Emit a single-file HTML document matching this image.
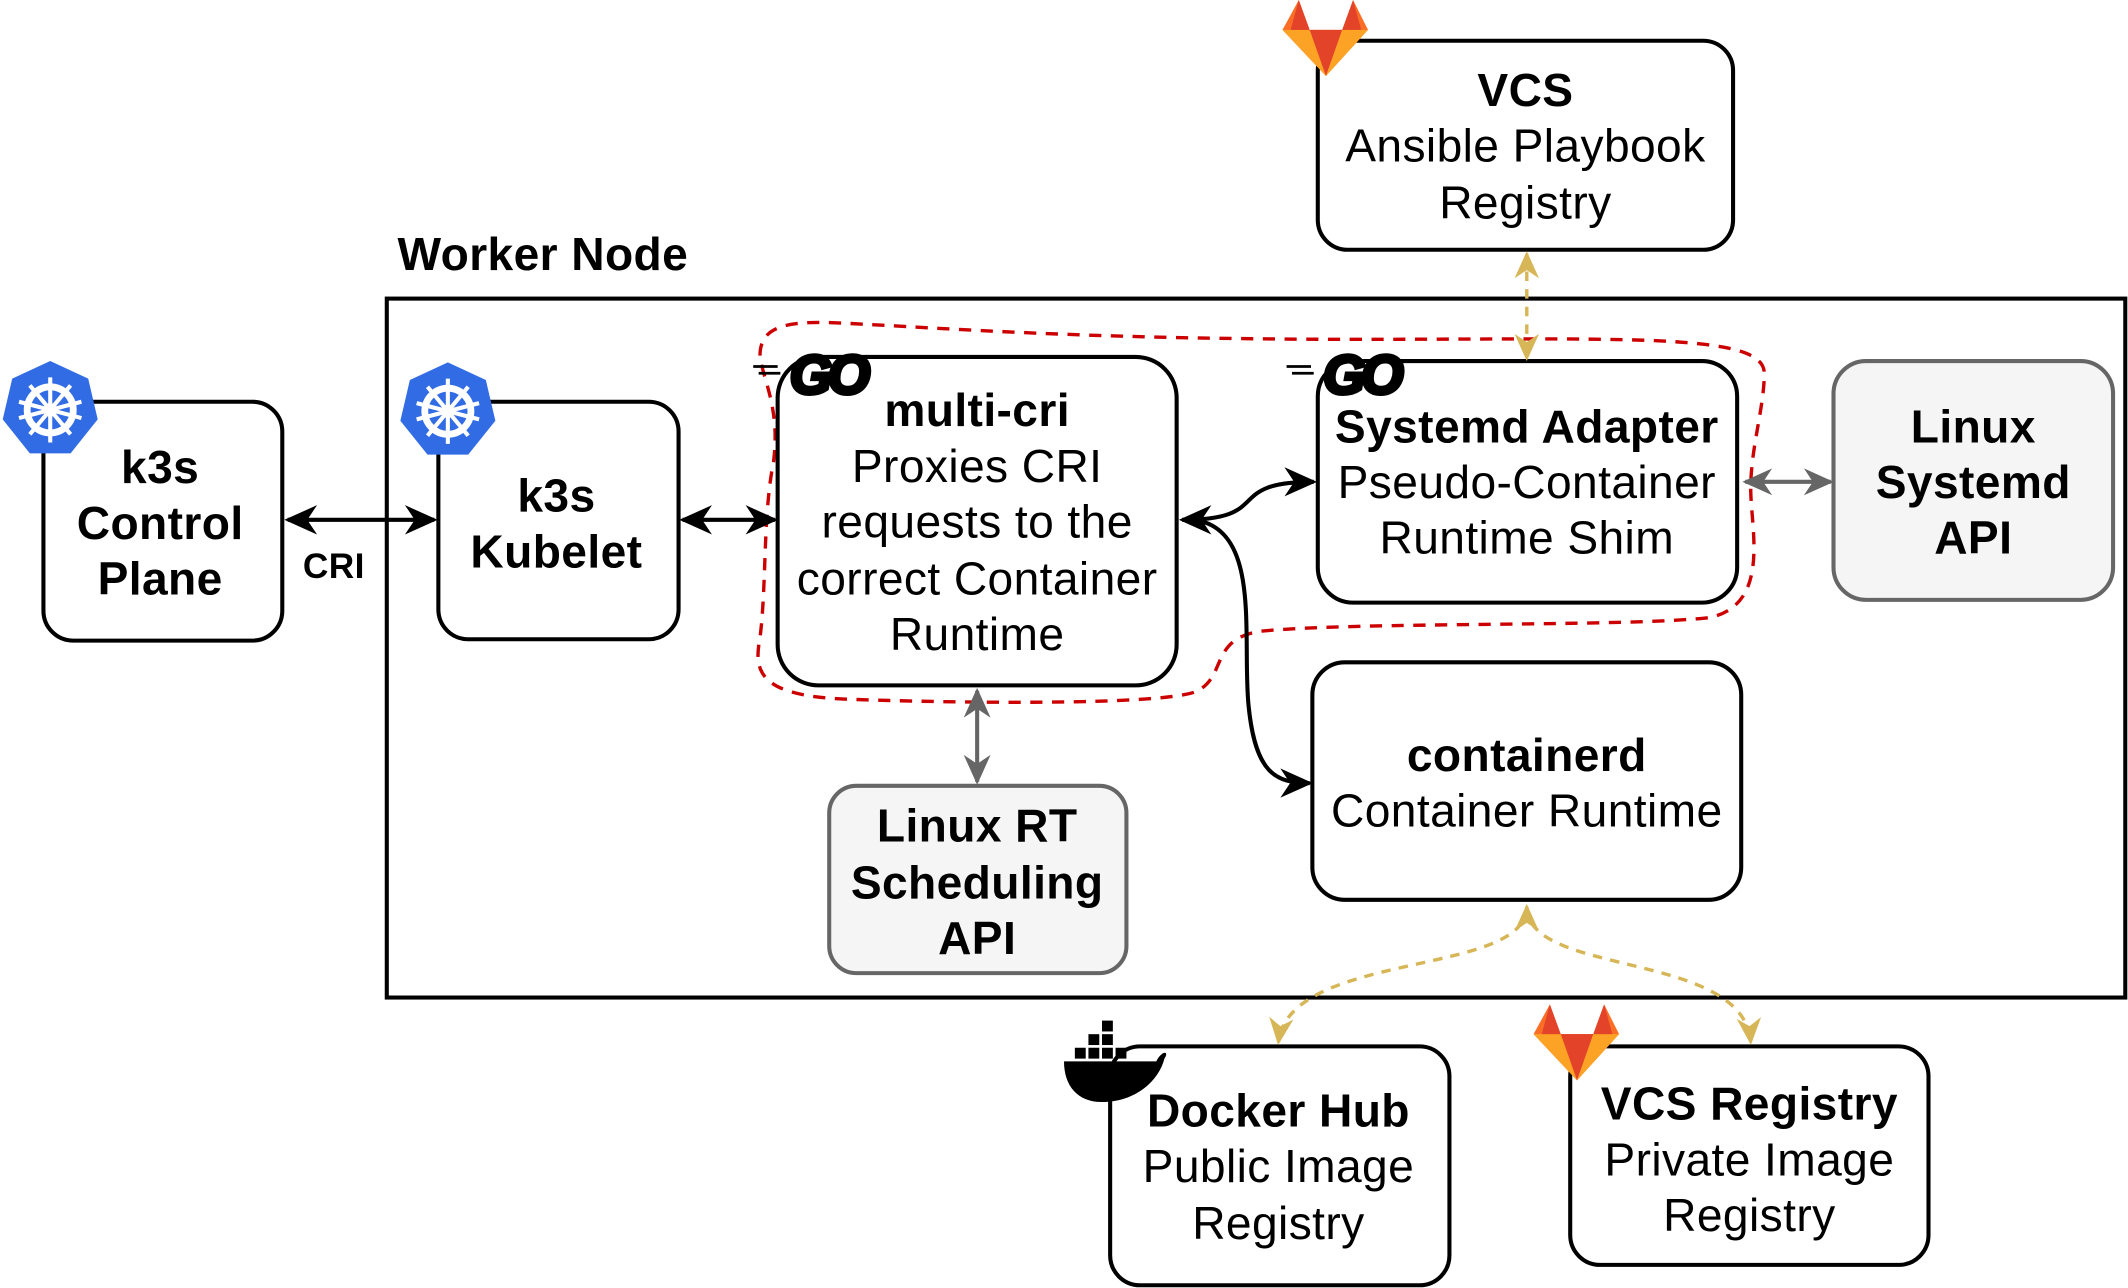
<!DOCTYPE html>
<html><head><meta charset="utf-8"><style>
html,body{margin:0;padding:0;background:#fff;}
svg{display:block;}
text{font-family:"Liberation Sans",Arial,Helvetica,sans-serif;font-size:34px;fill:#000;text-anchor:middle;letter-spacing:0.3px;}
.b{font-weight:bold;}
</style></head><body>
<svg width="2128" height="1288" viewBox="0 0 1568 949" xmlns="http://www.w3.org/2000/svg">
<defs>
<marker id="ab" viewBox="0 0 20 20" refX="18" refY="10" markerWidth="24" markerHeight="24" markerUnits="userSpaceOnUse" orient="auto-start-reverse"><path d="M0,1 L20,10 L0,19 L6,10 Z" fill="#000"/></marker>
<marker id="ag" viewBox="0 0 20 20" refX="18" refY="10" markerWidth="22" markerHeight="22" markerUnits="userSpaceOnUse" orient="auto-start-reverse"><path d="M0,1 L20,10 L0,19 L6,10 Z" fill="#666"/></marker>
<marker id="ay" viewBox="0 0 20 20" refX="18" refY="10" markerWidth="20" markerHeight="20" markerUnits="userSpaceOnUse" orient="auto-start-reverse"><path d="M0,1 L20,10 L0,19 L6,10 Z" fill="#d6b656"/></marker>
<g id="k8s"><polygon points="35,0 63,13 70,43 50,68 20,68 0,43 7,13" fill="#326ce5"/><circle cx="35" cy="36" r="17" fill="none" stroke="#fff" stroke-width="5"/><circle cx="35" cy="36" r="5" fill="#fff"/><g stroke="#fff" stroke-width="3"><line x1="35" y1="12" x2="35" y2="60"/><line x1="12" y1="30" x2="58" y2="42"/><line x1="58" y1="30" x2="12" y2="42"/><line x1="20" y1="18" x2="50" y2="54"/><line x1="50" y1="18" x2="20" y2="54"/></g></g>
<g id="gl"><polygon points="0,22 12,0 20,22 44,22 52,0 63,22 32,56" fill="#fc6d26"/><polygon points="20,22 44,22 32,56" fill="#e24329"/><polygon points="0,22 20,22 32,56" fill="#fca326"/><polygon points="63,22 44,22 32,56" fill="#fca326"/><polygon points="12,0 20,22 6,22" fill="#e24329"/><polygon points="52,0 44,22 58,22" fill="#e24329"/></g>
<g id="go"><line x1="0" y1="12" x2="18" y2="12" stroke="#000" stroke-width="2"/><line x1="4" y1="17" x2="20" y2="17" stroke="#000" stroke-width="2"/><text x="55" y="32" style="font-size:40px;font-weight:900;font-style:italic;text-anchor:middle;letter-spacing:-3px;stroke:#000;stroke-width:3px">GO</text></g>
</defs>
<text class="b" x="400" y="199">Worker Node</text>
<rect x="285" y="220" width="1281" height="515" fill="none" stroke="#000" stroke-width="3"/>
<path d="M560,262 C560,240 580,236 620,238 C700,242 800,250 1000,250 C1200,250 1300,245 1300,275 C1300,300 1290,330 1290,360 C1290,390 1305,445 1260,455 C1200,462 1000,458 930,465 C890,470 905,500 880,510 C850,520 700,518 620,515 C560,512 555,495 560,470 C565,430 562,380 570,340 C575,300 562,280 560,262 Z" fill="none" stroke="#cc0000" stroke-width="2.5" stroke-dasharray="9,7"/>
<rect x="32" y="296" width="176" height="176" rx="22" fill="#fff" stroke="#000" stroke-width="3"/>
<text class="b" x="118" y="356">k3s</text><text class="b" x="118" y="397">Control</text><text class="b" x="118" y="438">Plane</text>
<use href="#k8s" x="2" y="266"/>
<rect x="323" y="296" width="177" height="175" rx="22" fill="#fff" stroke="#000" stroke-width="3"/>
<text class="b" x="410" y="377">k3s</text><text class="b" x="410" y="418">Kubelet</text>
<use href="#k8s" x="295" y="267"/>
<rect x="573" y="263" width="294" height="242" rx="30" fill="#fff" stroke="#000" stroke-width="3"/>
<text class="b" x="720" y="314">multi-cri</text><text x="720" y="355">Proxies CRI</text><text x="720" y="396">requests to the</text><text x="720" y="438">correct Container</text><text x="720" y="479">Runtime</text>
<use href="#go" x="555" y="258"/>
<rect x="971" y="266" width="309" height="178" rx="26" fill="#fff" stroke="#000" stroke-width="3"/>
<text class="b" x="1125" y="326">Systemd Adapter</text><text x="1125" y="367">Pseudo-Container</text><text x="1125" y="408">Runtime Shim</text>
<use href="#go" x="948" y="258"/>
<rect x="1351" y="266" width="206" height="176" rx="24" fill="#f5f5f5" stroke="#666" stroke-width="3"/>
<text class="b" x="1454" y="326">Linux</text><text class="b" x="1454" y="367">Systemd</text><text class="b" x="1454" y="408">API</text>
<rect x="971" y="30" width="306" height="154" rx="22" fill="#fff" stroke="#000" stroke-width="3"/>
<text class="b" x="1124" y="78">VCS</text><text x="1124" y="119">Ansible Playbook</text><text x="1124" y="161">Registry</text>
<use href="#gl" x="945" y="0"/>
<rect x="967" y="488" width="316" height="175" rx="24" fill="#fff" stroke="#000" stroke-width="3"/>
<text class="b" x="1125" y="568">containerd</text><text x="1125" y="609">Container Runtime</text>
<rect x="611" y="579" width="219" height="138" rx="20" fill="#f5f5f5" stroke="#666" stroke-width="3"/>
<text class="b" x="720" y="620">Linux RT</text><text class="b" x="720" y="662">Scheduling</text><text class="b" x="720" y="703">API</text>
<rect x="818" y="771" width="250" height="176" rx="22" fill="#fff" stroke="#000" stroke-width="3"/>
<text class="b" x="942" y="830">Docker Hub</text><text x="942" y="871">Public Image</text><text x="942" y="913">Registry</text>
<g transform="translate(782,756)"><path d="M2,26 L70,26 C74,18 80,18 76,24 C72,40 55,56 30,56 C12,56 2,44 2,26 Z" fill="#000"/><g fill="#000"><rect x="10" y="16" width="8" height="8"/><rect x="20" y="16" width="8" height="8"/><rect x="30" y="16" width="8" height="8"/><rect x="40" y="16" width="8" height="8"/><rect x="20" y="6" width="8" height="8"/><rect x="30" y="6" width="8" height="8"/><rect x="30" y="-4" width="8" height="8"/></g></g>
<rect x="1157" y="771" width="264" height="161" rx="22" fill="#fff" stroke="#000" stroke-width="3"/>
<text class="b" x="1289" y="825">VCS Registry</text><text x="1289" y="866">Private Image</text><text x="1289" y="907">Registry</text>
<use href="#gl" x="1130" y="740"/>
<line x1="212" y1="383" x2="320" y2="383" stroke="#000" stroke-width="3" marker-start="url(#ab)" marker-end="url(#ab)"/>
<text class="b" x="246" y="426" style="font-size:26px">CRI</text>
<line x1="503" y1="383" x2="571" y2="383" stroke="#000" stroke-width="3" marker-start="url(#ab)" marker-end="url(#ab)"/>
<path d="M871,383 C940,383 900,355 968,355" fill="none" stroke="#000" stroke-width="3" marker-start="url(#ab)" marker-end="url(#ab)"/>
<path d="M880,383 C930,390 915,470 920,520 C925,570 940,577 965,577" fill="none" stroke="#000" stroke-width="3" marker-end="url(#ab)"/>
<line x1="1286" y1="355" x2="1349" y2="355" stroke="#666" stroke-width="3" marker-start="url(#ag)" marker-end="url(#ag)"/>
<line x1="720" y1="509" x2="720" y2="576" stroke="#666" stroke-width="3" marker-start="url(#ag)" marker-end="url(#ag)"/>
<line x1="1125" y1="187" x2="1125" y2="264" stroke="#d6b656" stroke-width="2.5" stroke-dasharray="7,6" marker-start="url(#ay)" marker-end="url(#ay)"/>
<path d="M1125,668 C1125,720 950,700 942,768" fill="none" stroke="#d6b656" stroke-width="2.5" stroke-dasharray="7,6" marker-start="url(#ay)" marker-end="url(#ay)"/>
<path d="M1125,668 C1125,720 1285,700 1290,768" fill="none" stroke="#d6b656" stroke-width="2.5" stroke-dasharray="7,6" marker-end="url(#ay)"/>
</svg>
</body></html>
